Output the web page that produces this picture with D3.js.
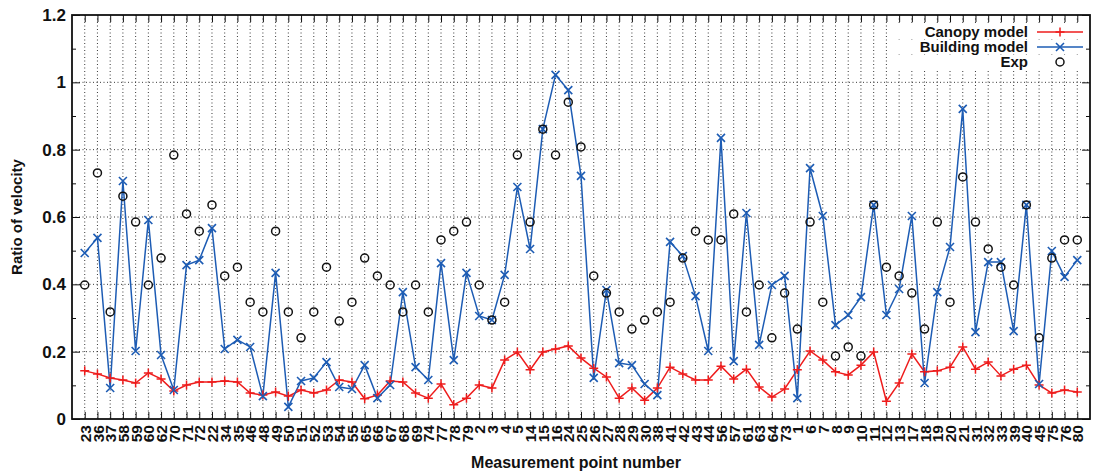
<!DOCTYPE html>
<html>
<head>
<meta charset="utf-8">
<script src="https://cdn.jsdelivr.net/npm/d3@7"></script>
<style>
  body { margin: 0; background: #fff; }
  svg text { font-family: "Liberation Sans", Arial, sans-serif; font-weight: bold; fill: #111; }
</style>
</head>
<body>
<div id="chart"></div>
<script>
// measurement point labels, in plotted order
const points = ["23","36","37","58","59","60","62","70","71","72","22","34","35","46","48","49","50","51","52","53",
  "54","55","65","66","67","68","69","74","77","78","79","2","3","4","5","14","15","16","24","25",
  "26","27","28","29","30","38","41","42","43","44","56","57","61","63","64","73","1","6","7","8",
  "9","10","11","12","13","17","18","19","20","21","31","32","33","39","40","45","75","76","80"];

const canopy = [0.143,0.134,0.122,0.116,0.107,0.137,0.119,0.083,0.101,0.110,0.110,0.113,0.110,0.077,0.071,0.080,0.068,0.086,0.077,0.086,
  0.116,0.110,0.060,0.071,0.113,0.110,0.077,0.062,0.104,0.042,0.062,0.101,0.092,0.175,0.199,0.146,0.199,0.208,0.217,0.181,
  0.151,0.125,0.062,0.092,0.056,0.092,0.154,0.134,0.116,0.116,0.157,0.119,0.148,0.095,0.065,0.089,0.146,0.202,0.175,0.140,
  0.131,0.160,0.199,0.053,0.107,0.193,0.140,0.143,0.154,0.214,0.148,0.169,0.128,0.148,0.160,0.101,0.077,0.086,0.080];

const building = [0.493,0.538,0.092,0.707,0.202,0.591,0.190,0.086,0.457,0.472,0.567,0.208,0.235,0.214,0.068,0.434,0.036,0.113,0.122,0.169,
  0.095,0.089,0.160,0.062,0.101,0.377,0.154,0.116,0.463,0.175,0.434,0.306,0.294,0.428,0.689,0.505,0.861,1.022,0.977,0.722,
  0.122,0.383,0.166,0.160,0.104,0.071,0.526,0.484,0.365,0.202,0.835,0.172,0.612,0.220,0.398,0.425,0.062,0.745,0.603,0.279,
  0.309,0.362,0.636,0.309,0.386,0.603,0.107,0.377,0.511,0.921,0.258,0.466,0.466,0.261,0.636,0.104,0.499,0.422,0.472];

const exp = [0.398,0.731,0.318,0.662,0.585,0.398,0.478,0.784,0.609,0.558,0.636,0.425,0.451,0.347,0.318,0.558,0.318,0.241,0.318,0.451,
  0.291,0.347,0.478,0.425,0.398,0.318,0.398,0.318,0.532,0.558,0.585,0.398,0.294,0.347,0.784,0.585,0.861,0.784,0.941,0.808,
  0.425,0.374,0.318,0.267,0.294,0.318,0.347,0.478,0.558,0.532,0.532,0.609,0.318,0.398,0.241,0.374,0.267,0.585,0.347,0.187,
  0.214,0.187,0.636,0.451,0.425,0.374,0.267,0.585,0.347,0.719,0.585,0.505,0.451,0.398,0.636,0.241,0.478,0.532,0.532];

const yTicks = [0, 0.2, 0.4, 0.6, 0.8, 1, 1.2];

const width = 1101, height = 475;
const margin = { top: 15, right: 11, bottom: 56, left: 72 };
const innerW = width - margin.left - margin.right;
const innerH = height - margin.top - margin.bottom;

const redCol = "#ee1c1c";
const blueCol = "#1d5cb4";

const svg = d3.select("#chart").append("svg")
  .attr("width", width).attr("height", height);
const g = svg.append("g").attr("transform", "translate(" + margin.left + "," + margin.top + ")");

// x positions: categories sit at 1..n on a 0..n+1 range
const x = d3.scaleLinear().domain([0, points.length + 1]).range([0, innerW]);
const y = d3.scaleLinear().domain([0, 1.2]).range([innerH, 0]);
const px = function (d, i) { return x(i + 1); };

// grid
g.append("g").selectAll("line").data(points).enter().append("line")
  .attr("x1", px).attr("x2", px).attr("y1", 0).attr("y2", innerH)
  .attr("stroke", "#222").attr("stroke-width", 0.9).attr("stroke-dasharray", "1,2.5");
g.append("g").selectAll("line").data(yTicks.slice(1, -1)).enter().append("line")
  .attr("x1", 0).attr("x2", innerW).attr("y1", function (d) { return y(d); }).attr("y2", function (d) { return y(d); })
  .attr("stroke", "#222").attr("stroke-width", 0.9).attr("stroke-dasharray", "1,2.5");

// y axis, ticks pointing inward, minor ticks at 0.1
const yAxis = g.append("g")
  .call(d3.axisLeft(y).tickValues(yTicks).tickSize(-8)
    .tickFormat(function (d) { return d3.format("~g")(d); }));
yAxis.select(".domain").remove();
yAxis.selectAll("text").style("font-size", "17px").attr("x", -6);
g.append("g").call(d3.axisRight(y).tickValues(yTicks).tickSize(-8).tickFormat(""))
  .attr("transform", "translate(" + innerW + ",0)").select(".domain").remove();
const minor = d3.range(1, 12, 2).map(function (k) { return k / 10; });
g.append("g").call(d3.axisLeft(y).tickValues(minor).tickSize(-4).tickFormat("")).select(".domain").remove();
g.append("g").call(d3.axisRight(y).tickValues(minor).tickSize(-4).tickFormat(""))
  .attr("transform", "translate(" + innerW + ",0)").select(".domain").remove();

// x ticks bottom and top
const xb = d3.scaleOrdinal().domain(points).range(points.map(function (p, i) { return x(i + 1); }));
const xAxis = g.append("g").attr("transform", "translate(0," + innerH + ")")
  .call(d3.axisBottom(xb).tickSize(-7).tickPadding(0));
xAxis.select(".domain").remove();
xAxis.selectAll("text")
  .attr("transform", "rotate(-90)")
  .attr("x", -6).attr("y", 0).attr("dy", "0.36em")
  .style("text-anchor", "end")
  .style("font-size", "15.5px");
g.append("g").call(d3.axisTop(xb).tickSize(-7).tickFormat("")).select(".domain").remove();
g.selectAll(".tick line").attr("stroke", "#111").attr("stroke-width", 1);

// frame
g.append("rect").attr("width", innerW).attr("height", innerH)
  .attr("fill", "none").attr("stroke", "#111").attr("stroke-width", 1.8);

// series
const line = function (vals) {
  return d3.line().x(function (d, i) { return x(i + 1); }).y(function (d) { return y(d); })(vals);
};
g.append("path").attr("d", line(canopy)).attr("fill", "none").attr("stroke", redCol).attr("stroke-width", 1.5);
g.append("path").attr("d", line(building)).attr("fill", "none").attr("stroke", blueCol).attr("stroke-width", 1.5);

const plus = function (sel, col) {
  sel.append("path")
    .attr("d", "M-4.5,0H4.5M0,-4.5V4.5")
    .attr("stroke", col).attr("stroke-width", 1.5).attr("fill", "none");
};
const cross = function (sel, col) {
  sel.append("path")
    .attr("d", "M-4,-4L4,4M-4,4L4,-4")
    .attr("stroke", col).attr("stroke-width", 1.6).attr("fill", "none");
};

g.append("g").selectAll("g").data(canopy).enter().append("g")
  .attr("transform", function (d, i) { return "translate(" + x(i + 1) + "," + y(d) + ")"; })
  .each(function () { plus(d3.select(this), redCol); });
g.append("g").selectAll("g").data(building).enter().append("g")
  .attr("transform", function (d, i) { return "translate(" + x(i + 1) + "," + y(d) + ")"; })
  .each(function () { cross(d3.select(this), blueCol); });
g.append("g").selectAll("circle").data(exp).enter().append("circle")
  .attr("cx", function (d, i) { return x(i + 1); }).attr("cy", function (d) { return y(d); })
  .attr("r", 4).attr("fill", "none").attr("stroke", "#111").attr("stroke-width", 1.5);

// legend
const legend = [
  { name: "Canopy model", col: redCol, mark: plus },
  { name: "Building model", col: blueCol, mark: cross },
  { name: "Exp", col: null, mark: null }
];
legend.forEach(function (l, k) {
  const ly = 17 + k * 15;
  const lg = g.append("g").attr("transform", "translate(0," + ly + ")");
  lg.append("rect").attr("x", innerW - 192).attr("y", -7).attr("width", 180).attr("height", 14).attr("fill", "#fff");
  lg.append("text").attr("x", innerW - 62).attr("y", 0).attr("dy", "0.35em")
    .attr("text-anchor", "end").style("font-size", "15px").text(l.name);
  if (l.col) {
    lg.append("line").attr("x1", innerW - 53).attr("x2", innerW - 7).attr("y1", 0).attr("y2", 0)
      .attr("stroke", l.col).attr("stroke-width", 1.5);
    const m = lg.append("g").attr("transform", "translate(" + (innerW - 30) + ",0)");
    l.mark(m, l.col);
  } else {
    lg.append("circle").attr("cx", innerW - 30).attr("cy", 0).attr("r", 4)
      .attr("fill", "none").attr("stroke", "#111").attr("stroke-width", 1.5);
  }
});

// axis titles
svg.append("text")
  .attr("transform", "rotate(-90)")
  .attr("x", -(margin.top + innerH / 2)).attr("y", 22)
  .attr("text-anchor", "middle").style("font-size", "15px")
  .text("Ratio of velocity");
svg.append("text")
  .attr("x", margin.left + innerW / 2 - 5).attr("y", 468)
  .attr("text-anchor", "middle").style("font-size", "16px")
  .text("Measurement point number");
</script>
</body>
</html>
